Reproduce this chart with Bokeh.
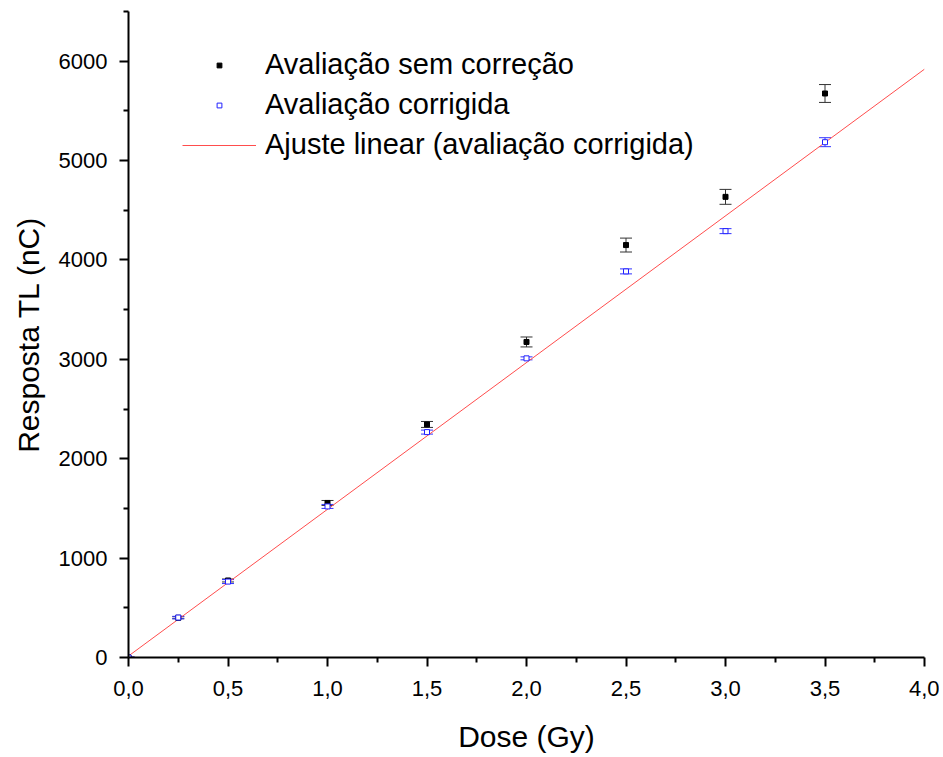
from bokeh.plotting import figure
from bokeh.models import (ColumnDataSource, Whisker, TeeHead, Legend, LegendItem,
                          FixedTicker, Range1d)
from bokeh.embed import file_html
from bokeh.resources import INLINE

# ---- data ----
dose = [0.0, 0.25, 0.5, 1.0, 1.5, 2.0, 2.5, 3.0, 3.5]
resp_raw = [0, 400, 775, 1555, 2345, 3175, 4150, 4635, 5675]
err_raw = [5, 10, 15, 25, 30, 50, 70, 75, 90]
resp_corr = [0, 402, 764, 1520, 2268, 3010, 3885, 4290, 5185]
err_corr = [5, 12, 20, 20, 20, 15, 25, 25, 45]
fit_x = [0.0, 4.0]
fit_y = [15, 5920]

x_ticks = [0.0, 0.5, 1.0, 1.5, 2.0, 2.5, 3.0, 3.5, 4.0]
x_tick_labels = ["0,0", "0,5", "1,0", "1,5", "2,0", "2,5", "3,0", "3,5", "4,0"]
x_minor = [0.25, 0.75, 1.25, 1.75, 2.25, 2.75, 3.25, 3.75]
y_ticks = [0, 1000, 2000, 3000, 4000, 5000, 6000]
y_tick_labels = ["0", "1000", "2000", "3000", "4000", "5000", "6000"]
y_minor = [500, 1500, 2500, 3500, 4500, 5500, 6500]

legend_labels = ["Avaliação sem correção", "Avaliação corrigida",
                 "Ajuste linear (avaliação corrigida)"]

FONT = "Liberation Sans"

p = figure(width=939, height=756, output_backend="svg", toolbar_location=None,
           x_range=Range1d(0, 4.0), y_range=Range1d(0, 6500),
           min_border_left=128, min_border_right=15, min_border_top=11,
           min_border_bottom=99)
p.outline_line_color = None
p.grid.visible = False
p.background_fill_color = "white"

raw = ColumnDataSource(dict(x=dose, y=resp_raw,
                            lo=[a - b for a, b in zip(resp_raw, err_raw)],
                            hi=[a + b for a, b in zip(resp_raw, err_raw)]))
cor = ColumnDataSource(dict(x=dose, y=resp_corr,
                            lo=[a - b for a, b in zip(resp_corr, err_corr)],
                            hi=[a + b for a, b in zip(resp_corr, err_corr)]))

fit = p.line(fit_x, fit_y, line_color="#ff4d4d", line_width=1)

w1 = Whisker(source=raw, base="x", lower="lo", upper="hi", line_color="#333333",
             line_width=1,
             upper_head=TeeHead(size=12, line_color="#333333", line_width=1),
             lower_head=TeeHead(size=12, line_color="#333333", line_width=1))
w2 = Whisker(source=cor, base="x", lower="lo", upper="hi", line_color="#3333ff",
             line_width=1,
             upper_head=TeeHead(size=12, line_color="#3333ff", line_width=1),
             lower_head=TeeHead(size=12, line_color="#3333ff", line_width=1))
p.add_layout(w1)
p.add_layout(w2)

r1 = p.scatter("x", "y", source=raw, marker="square", size=5,
               fill_color="black", line_color="black")
r2 = p.scatter("x", "y", source=cor, marker="square", size=5,
               fill_color="white", line_color="#2020ff", line_width=1)

legend = Legend(items=[LegendItem(label=legend_labels[0], renderers=[r1]),
                       LegendItem(label=legend_labels[1], renderers=[r2]),
                       LegendItem(label=legend_labels[2], renderers=[fit])],
                location=(54, 496), border_line_color=None,
                background_fill_alpha=0, padding=0, margin=0, spacing=7,
                glyph_width=74, glyph_height=12, label_height=30,
                label_standoff=9, label_text_font=FONT,
                label_text_font_size="29px", label_text_color="black")
p.add_layout(legend)

for ax in (p.xaxis[0], p.yaxis[0]):
    ax.axis_line_width = 2
    ax.axis_line_color = "black"
    ax.major_tick_line_width = 2
    ax.minor_tick_line_width = 2
    ax.major_tick_line_color = "black"
    ax.minor_tick_line_color = "black"
    ax.major_tick_out = 9
    ax.major_tick_in = 0
    ax.minor_tick_out = 5
    ax.minor_tick_in = 0
    ax.major_label_text_font = FONT
    ax.major_label_text_font_size = "22px"
    ax.major_label_text_color = "black"
    ax.axis_label_text_font = FONT
    ax.axis_label_text_font_size = "30px"
    ax.axis_label_text_font_style = "normal"
    ax.axis_label_text_color = "black"

p.xaxis.ticker = FixedTicker(ticks=x_ticks, minor_ticks=x_minor)
p.xaxis.major_label_overrides = dict(zip(x_ticks, x_tick_labels))
p.yaxis.ticker = FixedTicker(ticks=y_ticks, minor_ticks=y_minor)
p.yaxis.major_label_overrides = dict(zip(y_ticks, y_tick_labels))
p.xaxis.axis_label = "Dose (Gy)"
p.yaxis.axis_label = "Resposta TL (nC)"
p.xaxis.major_label_standoff = 14
p.xaxis.axis_label_standoff = 21
p.yaxis.major_label_standoff = 12
p.yaxis.axis_label_standoff = 11

open("out.html", "w").write(file_html(p, INLINE))
